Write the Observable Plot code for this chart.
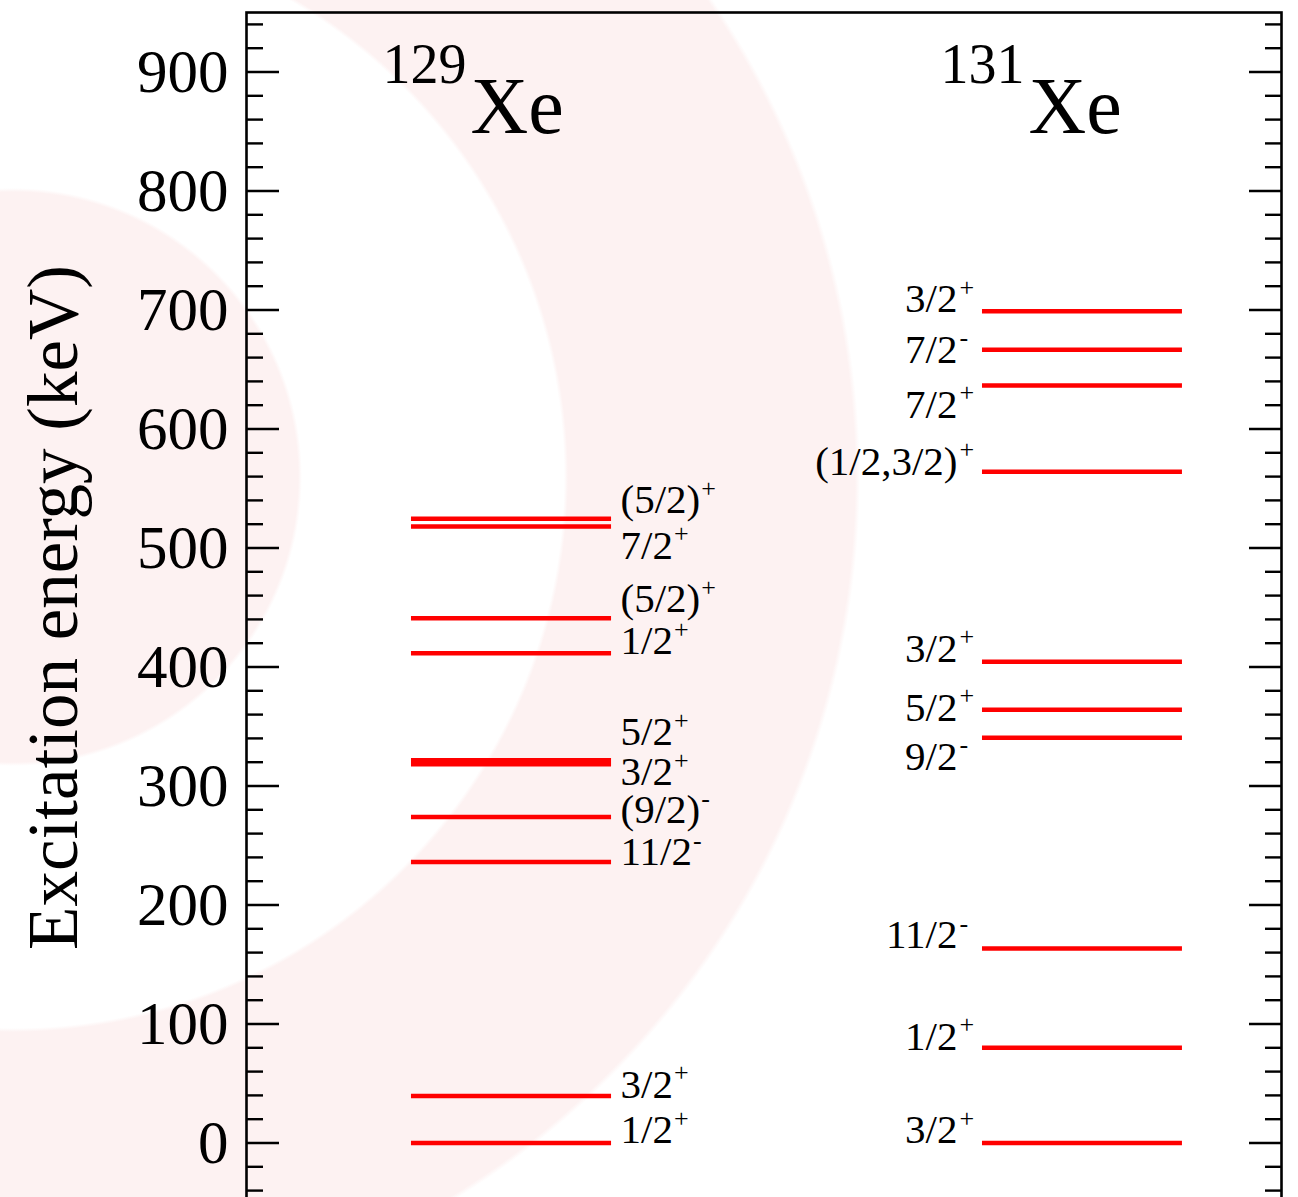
<!DOCTYPE html>
<html>
<head>
<meta charset="utf-8">
<script src="https://cdn.jsdelivr.net/npm/d3@7"></script>
<script src="https://cdn.jsdelivr.net/npm/@observablehq/plot@0.6"></script>
<style>
  html, body { margin: 0; padding: 0; background: #fff; }
  #chart {
    width: 1298px; height: 1197px; overflow: hidden; position: relative;
    /* faint concentric rings behind the level scheme */
    background: radial-gradient(circle at 13px 477px,
      #fdf2f2 0px, #fdf2f2 285px, #ffffff 289px,
      #ffffff 551px, #fdf2f2 555px,
      #fdf2f2 842px, #ffffff 847px);
  }
  #chart svg { display: block; }
</style>
</head>
<body>
<div id="chart"></div>
<script>
// ---- level data (excitation energies in keV) ----
const isotopes = ["129Xe", "131Xe"];
const massNumbers = ["129", "131"];
const elementSymbol = "Xe";

const xe129Energy = [0, 39.6, 236.1, 274, 318.2, 321.7, 411.5, 441, 518, 524.5];
const xe129Spin   = ["1/2", "3/2", "11/2", "(9/2)", "3/2", "5/2", "1/2", "(5/2)", "7/2", "(5/2)"];
const xe129Parity = ["+", "+", "-", "-", "+", "+", "+", "+", "+", "+"];

const xe131Energy = [0, 80, 163.5, 340.5, 364, 404.5, 564, 636.5, 666.5, 699];
const xe131Spin   = ["3/2", "1/2", "11/2", "9/2", "5/2", "3/2", "(1/2,3/2)", "7/2", "7/2", "3/2"];
const xe131Parity = ["+", "+", "-", "-", "+", "+", "+", "+", "-", "+"];

const yMajorTicks = [0, 100, 200, 300, 400, 500, 600, 700, 800, 900];
const yAxisLabel = "Excitation energy (keV)";

// ---- layout ----
const FONT = '"Liberation Serif", "Times New Roman", Times, serif';
const W = 1298, H = 1202;
const M = {top: 12, right: 17, bottom: 0, left: 246};

// column extents of the level lines (fraction of the frame width)
const colStart = [0.1594, 0.7111];
const colEnd   = [0.3527, 0.9043];
const titleX   = [0.2164, 0.7556];

// vertical nudges (px) that keep crowded spin labels apart
const xe129Nudge = [0, 2, 3, 6.5, 21, -15, 1, -6, 32, -5.5];
const xe131Nudge = [0, 2, 0, 32, 11, 0, 3, 32, 13, 1];

const labelSize = 41, supSize = 26, supRaise = 16.5;

const levels = [
  ...xe129Energy.map((e, i) => ({iso: 0, energy: e, spin: xe129Spin[i], parity: xe129Parity[i], nudge: xe129Nudge[i]})),
  ...xe131Energy.map((e, i) => ({iso: 1, energy: e, spin: xe131Spin[i], parity: xe131Parity[i], nudge: xe131Nudge[i]}))
];

// text measurement so that parity superscripts follow the spin text
const ctx = document.createElement("canvas").getContext("2d");
function textWidth(s, size) {
  ctx.font = `${size}px ${FONT}`;
  return ctx.measureText(s).width;
}

const minorTicks = d3.range(-40, 950, 20).filter(v => v % 100 !== 0);
const noLabel = () => "";

const marks = [
  // inner ticks on both vertical sides
  Plot.axisY(yMajorTicks, {anchor: "left", tickSize: -33, tickFormat: noLabel, strokeWidth: 2.4, label: null}),
  Plot.axisY(minorTicks, {anchor: "left", tickSize: -17, tickFormat: noLabel, strokeWidth: 2.4, label: null}),
  Plot.axisY(yMajorTicks, {anchor: "right", tickSize: -33, tickFormat: noLabel, strokeWidth: 2.4, label: null}),
  Plot.axisY(minorTicks, {anchor: "right", tickSize: -17, tickFormat: noLabel, strokeWidth: 2.4, label: null}),
  // tick labels
  Plot.axisY(yMajorTicks, {anchor: "left", tickSize: 0, tickPadding: 18, fontSize: 61, label: null, tickFormat: d => String(d)}),
  Plot.frame({strokeWidth: 2.6, stroke: "#000"}),
  // energy levels
  Plot.ruleY(levels, {
    y: "energy",
    x1: d => colStart[d.iso],
    x2: d => colEnd[d.iso],
    stroke: "#ff0000",
    strokeWidth: 4.5
  }),
  // spin labels: right of the 129Xe levels, left of the 131Xe levels
  ...levels.map(d => Plot.text([d], {
    x: d.iso === 0 ? colEnd[0] : colStart[1],
    y: "energy",
    text: "spin",
    dx: d.iso === 0 ? 9 : -25,
    dy: d.nudge,
    lineAnchor: "bottom",
    textAnchor: d.iso === 0 ? "start" : "end",
    fontSize: labelSize,
    fill: "#000"
  })),
  ...levels.map(d => Plot.text([d], {
    x: d.iso === 0 ? colEnd[0] : colStart[1],
    y: "energy",
    text: "parity",
    dx: d.iso === 0 ? 9 + textWidth(d.spin, labelSize) + 1 : -25 + 2,
    dy: d.nudge - supRaise,
    lineAnchor: "bottom",
    textAnchor: "start",
    fontSize: supSize,
    fill: "#000"
  })),
  // isotope titles
  Plot.text(isotopes, {
    x: (d, i) => titleX[i],
    frameAnchor: "top",
    text: () => elementSymbol,
    dy: 120,
    lineAnchor: "bottom",
    textAnchor: "start",
    fontSize: 80
  }),
  Plot.text(isotopes, {
    x: (d, i) => titleX[i],
    frameAnchor: "top",
    text: (d, i) => massNumbers[i],
    dx: -4,
    dy: 70,
    lineAnchor: "bottom",
    textAnchor: "end",
    fontSize: 56
  }),
  // y-axis title
  Plot.text([yAxisLabel], {
    frameAnchor: "left",
    text: d => d,
    rotate: -90,
    dx: -170,
    lineAnchor: "bottom",
    textAnchor: "middle",
    fontSize: 71
  })
];

const chart = Plot.plot({
  width: W,
  height: H,
  marginTop: M.top,
  marginRight: M.right,
  marginBottom: M.bottom,
  marginLeft: M.left,
  x: {domain: [0, 1], axis: null},
  y: {domain: [-50, 950], axis: null},
  style: {background: "transparent", fontFamily: FONT, fontSize: "61px", color: "#000", overflow: "visible"},
  marks
});

document.getElementById("chart").appendChild(chart);
</script>
</body>
</html>
